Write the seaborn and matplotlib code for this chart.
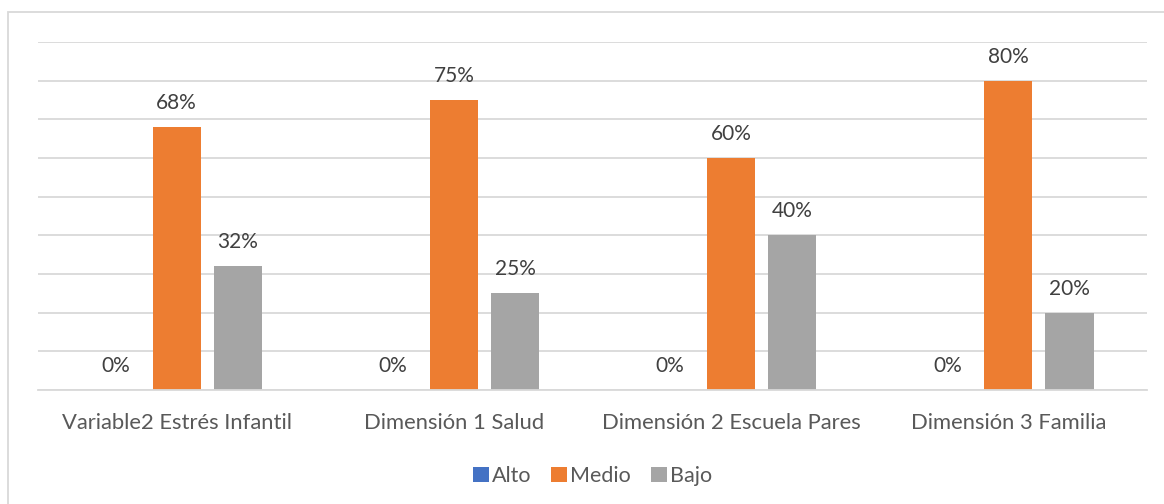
import matplotlib
matplotlib.use("Agg")
import matplotlib.pyplot as plt
import seaborn as sns
import pandas as pd
from matplotlib.patches import Rectangle

categories = ["Variable2 Estrés Infantil", "Dimensión 1 Salud", "Dimensión 2 Escuela Pares", "Dimensión 3 Familia"]
series = ["Alto", "Medio", "Bajo"]
alto = [0, 0, 0, 0]
medio = [68, 75, 60, 80]
bajo = [32, 25, 40, 20]
colors = ["#4472C4", "#ED7D31", "#A5A5A5"]

rows = []
for s, vals in zip(series, [alto, medio, bajo]):
    for c, v in zip(categories, vals):
        rows.append({"cat": c, "serie": s, "val": v})
df = pd.DataFrame(rows)

sns.set_style("white")
plt.rcParams["font.family"] = ["Lato", "DejaVu Sans"]

W, H = 1164, 504
fig = plt.figure(figsize=(W / 100, H / 100), dpi=100)
ax = fig.add_axes([38 / W, (H - 390) / H, (1147 - 38) / W, (390 - 42) / H])

sns.barplot(data=df, x="cat", y="val", hue="serie", hue_order=series,
            palette=colors, width=0.661, gap=0.213, ax=ax, saturation=1,
            legend=True, linewidth=0)

ax.set_ylim(0, 90)
ax.set_yticks(range(0, 91, 10))
ax.yaxis.grid(True, color="#d9d9d9", linewidth=1.3)
ax.set_axisbelow(True)
ax.tick_params(axis="y", left=False, labelleft=False)
ax.tick_params(axis="x", bottom=False, labelsize=15.8, colors="#595959", pad=13)
for sp in ["top", "right", "left"]:
    ax.spines[sp].set_visible(False)
ax.spines["bottom"].set_color("#d9d9d9")
ax.spines["bottom"].set_linewidth(1.3)
ax.set_xlabel("")
ax.set_ylabel("")

for cont in ax.containers:
    ax.bar_label(cont, fmt="%.0f%%", padding=10, fontsize=15, color="#404040")

handles, labels = ax.get_legend_handles_labels()
ax.legend(handles, labels, loc="center", bbox_to_anchor=(0.5, -(476 - 390) / (390 - 42)),
          ncol=3, frameon=False, fontsize=15.5, handlelength=0.75, handleheight=0.75,
          handletextpad=0.15, columnspacing=0.9, labelcolor="#595959")

fig.patches.append(Rectangle((8 / W, -0.1), 1.2, (H - 12) / H + 0.1, transform=fig.transFigure,
                             fill=False, edgecolor="#d9d9d9", linewidth=1.3))

fig.savefig("out.png", dpi=100)
